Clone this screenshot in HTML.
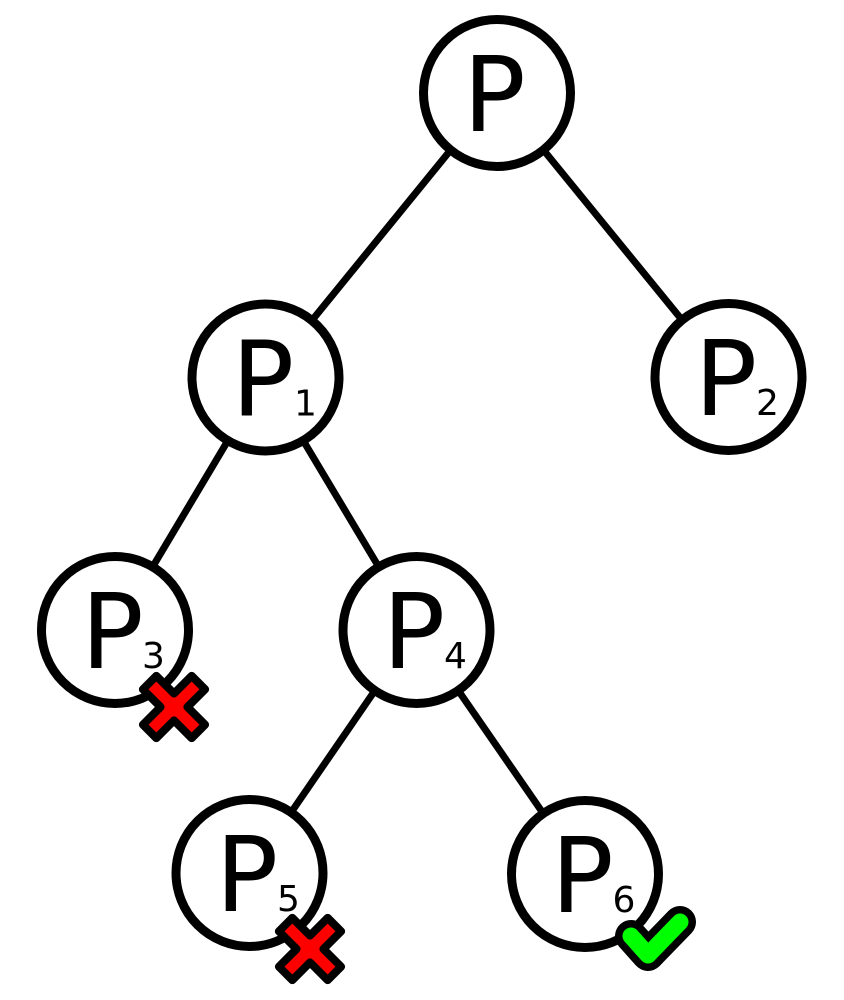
<!DOCTYPE html>
<html>
<head>
<meta charset="utf-8">
<style>
  html, body { margin: 0; padding: 0; background: #ffffff; }
  svg { display: block; }
  .big { font-family: "DejaVu Sans", "Liberation Sans", sans-serif; font-size: 104px; fill: #000; }
  .sub { font-family: "DejaVu Sans", "Liberation Sans", sans-serif; font-size: 36px; fill: #000; }
</style>
</head>
<body>
<svg width="844" height="1000" viewBox="0 0 844 1000" xmlns="http://www.w3.org/2000/svg">
  <!-- edges -->
  <g stroke="#000" stroke-width="7" fill="none">
    <line x1="497" y1="93" x2="265.5" y2="377.5"/>
    <line x1="497" y1="93" x2="728.5" y2="377"/>
    <line x1="265.5" y1="377.5" x2="115" y2="630"/>
    <line x1="265.5" y1="377.5" x2="416.5" y2="630"/>
    <line x1="416.5" y1="630" x2="249.5" y2="873"/>
    <line x1="416.5" y1="630" x2="585" y2="874"/>
  </g>
  <!-- nodes -->
  <g stroke="#000" stroke-width="9" fill="#fff">
    <circle cx="497" cy="93" r="73.5"/>
    <circle cx="265.5" cy="377.5" r="73.5"/>
    <circle cx="728.5" cy="377" r="73.5"/>
    <circle cx="115" cy="630" r="73.5"/>
    <circle cx="416.5" cy="630" r="73.5"/>
    <circle cx="249.5" cy="873" r="73.5"/>
    <circle cx="585" cy="874" r="73.5"/>
  </g>
  <!-- labels -->
  <text class="big" x="463" y="131">P</text>

  <text class="big" x="231.5" y="415.5">P</text>
  <text class="sub" x="294" y="415.5">1</text>

  <text class="big" x="694.5" y="415">P</text>
  <text class="sub" x="756" y="415">2</text>

  <text class="big" x="81" y="668">P</text>
  <text class="sub" x="142" y="668">3</text>

  <text class="big" x="382.5" y="668">P</text>
  <text class="sub" x="444" y="668">4</text>

  <text class="big" x="215.5" y="911">P</text>
  <text class="sub" x="277" y="911">5</text>

  <text class="big" x="551" y="912">P</text>
  <text class="sub" x="612.5" y="912">6</text>

  <!-- red crosses -->
  <g transform="translate(174,707) rotate(45)">
    <path d="M-9.5,-34.5 L9.5,-34.5 L9.5,-9.5 L34.5,-9.5 L34.5,9.5 L9.5,9.5 L9.5,34.5 L-9.5,34.5 L-9.5,9.5 L-34.5,9.5 L-34.5,-9.5 L-9.5,-9.5 Z"
          fill="#ff0000" stroke="#000" stroke-width="8" stroke-linejoin="round"/>
  </g>
  <g transform="translate(310,949) rotate(45)">
    <path d="M-9.5,-34.5 L9.5,-34.5 L9.5,-9.5 L34.5,-9.5 L34.5,9.5 L9.5,9.5 L9.5,34.5 L-9.5,34.5 L-9.5,9.5 L-34.5,9.5 L-34.5,-9.5 L-9.5,-9.5 Z"
          fill="#ff0000" stroke="#000" stroke-width="8" stroke-linejoin="round"/>
  </g>

  <!-- green check -->
  <polyline points="631,936 648,955 680,922" fill="none" stroke="#000" stroke-width="32"
            stroke-linecap="round" stroke-linejoin="round"/>
  <polyline points="631,936 648,955 680,922" fill="none" stroke="#00ff00" stroke-width="17"
            stroke-linecap="round" stroke-linejoin="round"/>
</svg>
</body>
</html>
